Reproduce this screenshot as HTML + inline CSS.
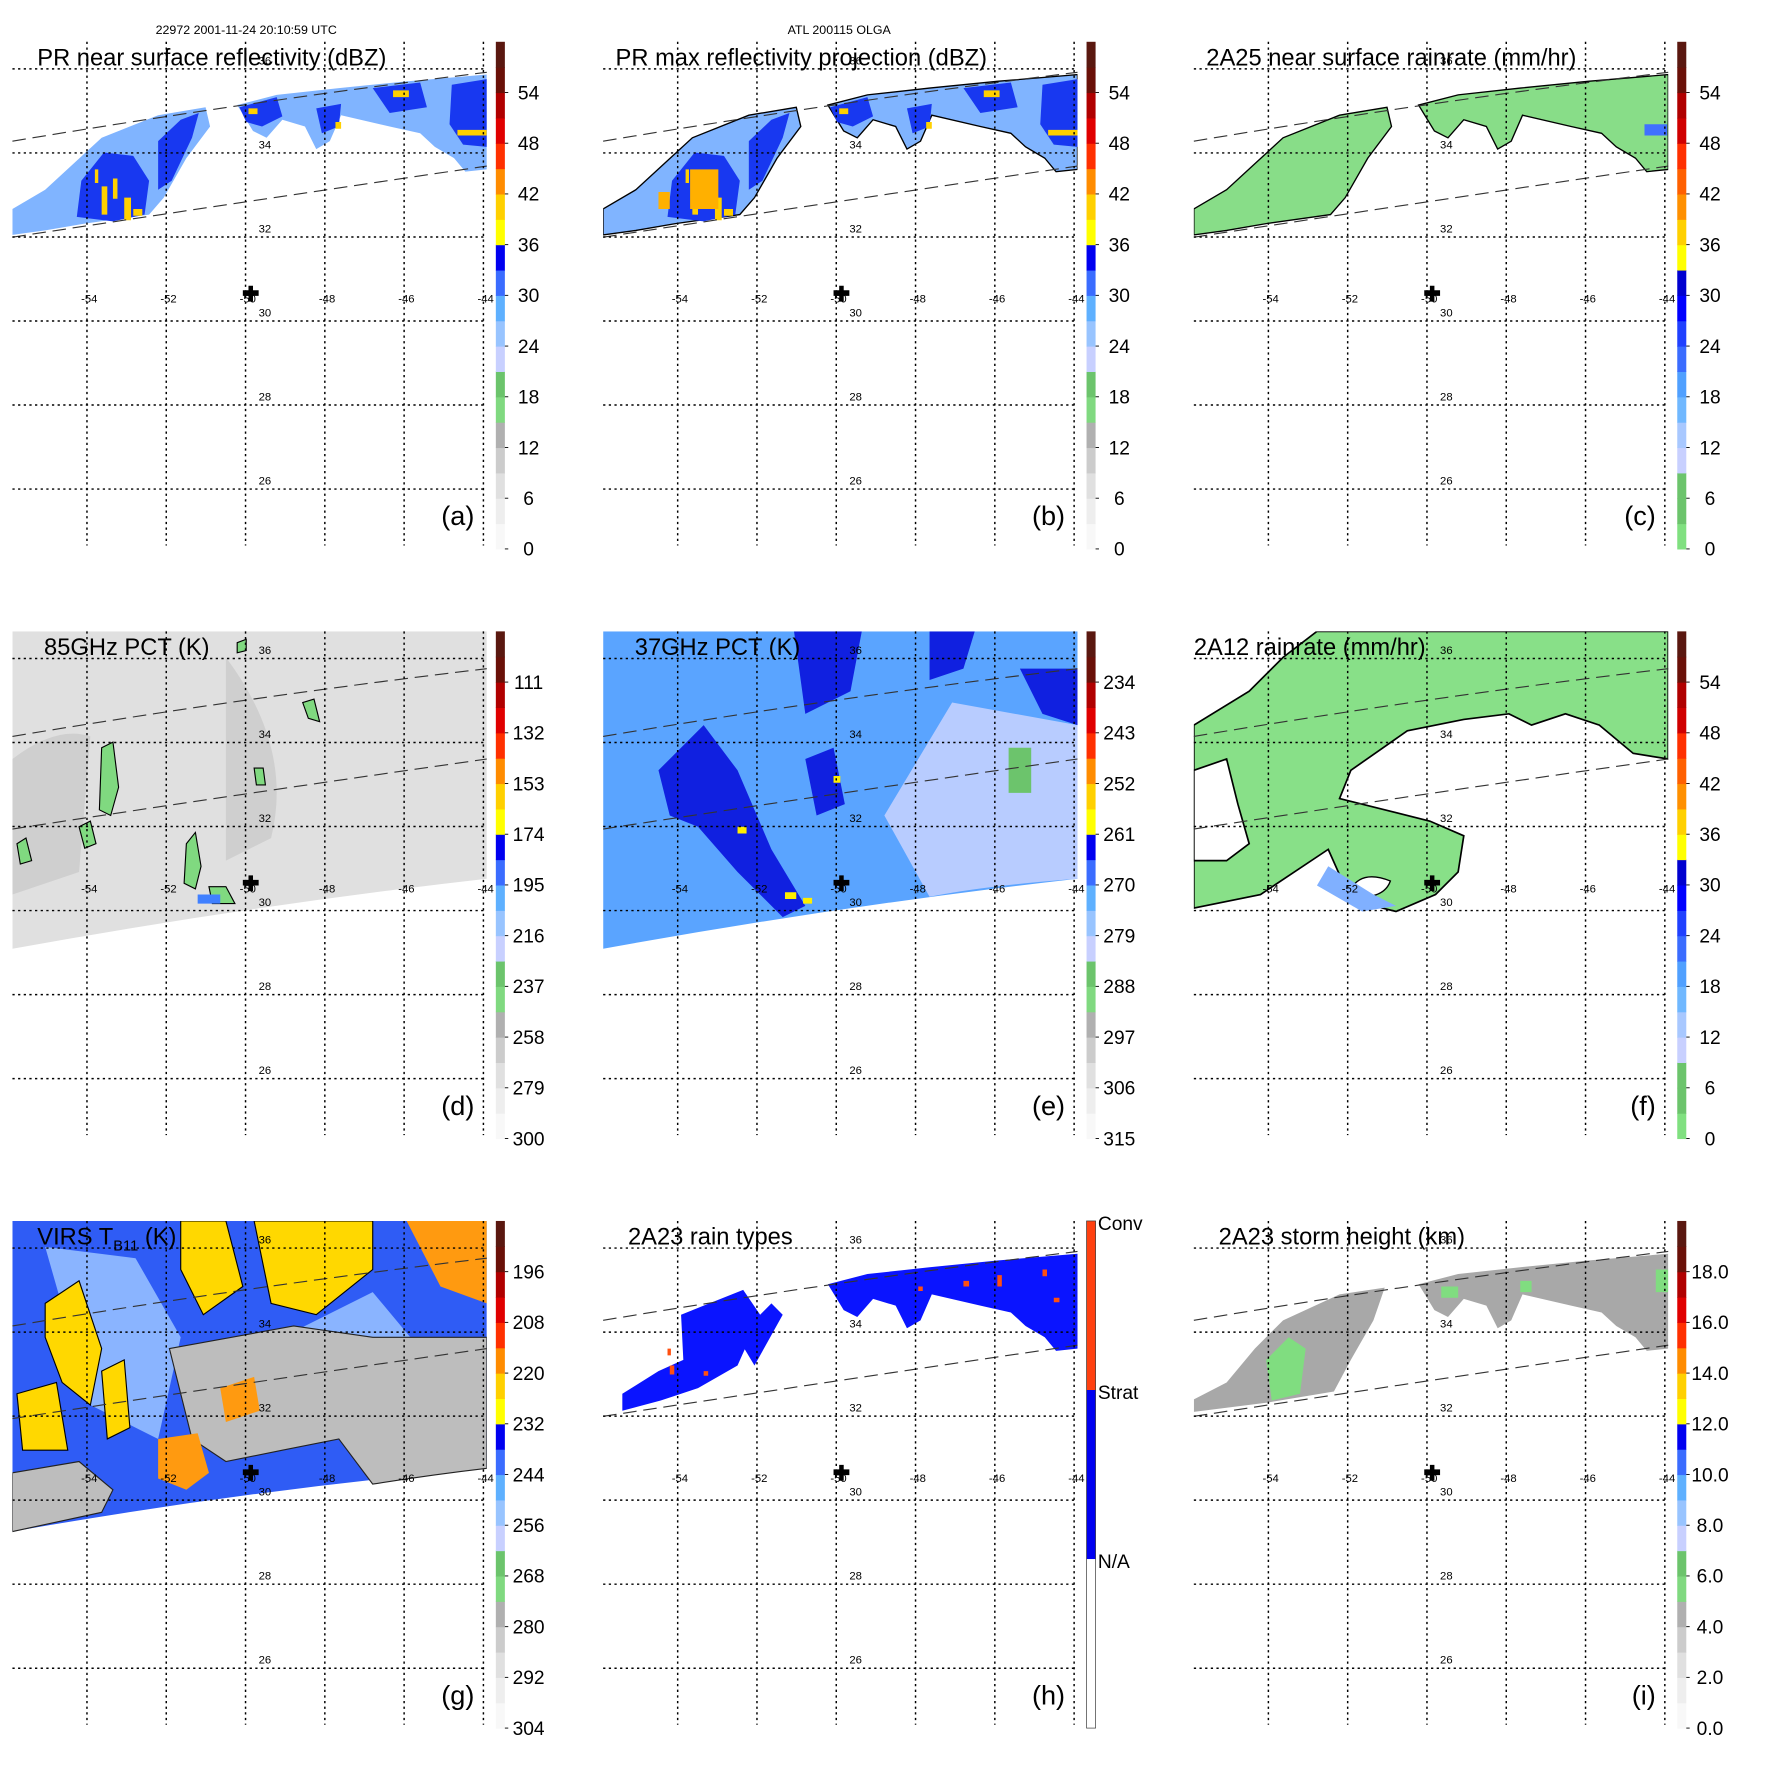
<!DOCTYPE html>
<html><head><meta charset="utf-8"><style>
html,body{margin:0;padding:0;background:#fff;}
svg{display:block;font-family:"Liberation Sans",sans-serif;}
</style></head><body>
<svg id="fig" width="1771" height="1771" viewBox="0 0 1568 1568" xmlns="http://www.w3.org/2000/svg">
<defs>
<clipPath id="mapclip"><rect x="11" y="37" width="420" height="447"/></clipPath>
</defs>
<text x="218" y="30" font-size="11" text-anchor="middle">22972 2001-11-24 20:10:59 UTC</text>
<text x="743" y="30" font-size="11" text-anchor="middle">ATL 200115 OLGA</text>
<g id="panels"></g>
</svg>
<script>
const lonTicks = [-54, -52, -50, -48, -46, -44];
const latTicks = [36, 34, 32, 30, 28, 26];
const barA = ["0","6","12","18","24","30","36","42","48","54"];
const barD = ["300","279","258","237","216","195","174","153","132","111"];
const barE = ["315","306","297","288","279","270","261","252","243","234"];
const barG = ["304","292","280","268","256","244","232","220","208","196"];
const barI = ["0.0","2.0","4.0","6.0","8.0","10.0","12.0","14.0","16.0","18.0"];
const titles = ["PR near surface reflectivity (dBZ)","PR max reflectivity projection (dBZ)","2A25 near surface rainrate (mm/hr)","85GHz PCT (K)","37GHz PCT (K)","2A12 rainrate (mm/hr)","VIRS T","2A23 rain types","2A23 storm height (km)"];
const titleX = [33,22,22,39,39,11,33,33,33];
const letters = ["(a)","(b)","(c)","(d)","(e)","(f)","(g)","(h)","(i)"];

const NS="http://www.w3.org/2000/svg";
function lonX(lon){return 77+(lon+54)*35.1;}
function latY(lat){return 61+(36-lat)*37.2;}
function barY(v){return 486-v*(449/60);}

const colsA=["#f8f8f8","#eeeeee","#e0e0e0","#cccccc","#b0b0b0","#80d980","#6cc46c","#c8d0ff","#98c4ff","#5eb0ff","#3a6cff","#0000f0","#ffff00","#ffd000","#ff8c00","#ff3000","#e00000","#b00000","#6a1008","#5a1810"];
const colsC=["#80e080","#6cc46c","#6cc46c","#c8d0ff","#a8c8ff","#70b8ff","#50a0ff","#3a6cff","#2040ff","#0000ff","#0000d0","#ffff00","#ffd000","#ff9000","#ff6000","#ff3000","#d00000","#b00000","#6a1008","#5a1810"];

function el(tag,attrs,parent){const e=document.createElementNS(NS,tag);for(const k in attrs)e.setAttribute(k,attrs[k]);parent.appendChild(e);return e;}

const root=document.getElementById('panels');

function drawPanel(i){
  const ox=(i%3)*523, oy=Math.floor(i/3)*522;
  const g=el('g',{transform:`translate(${ox},${oy})`},root);
  
  
  const data=el('g',{'clip-path':'url(#mapclip)'},g);
  
  
  drawData(i,data);
  if([0,1,2,7,8].includes(i)){
    const s1=el('path',{d:"M11,125 Q220,90 431,64",fill:"none",stroke:"#333","stroke-width":"1","stroke-dasharray":"12,6"},g);
    
    
    const s2=el('path',{d:"M11,210 Q220,178 431,147",fill:"none",stroke:"#333","stroke-width":"1","stroke-dasharray":"12,6"},g);
    
    
  } else {
    const s1=el('path',{d:"M11,130 Q220,95 431,70",fill:"none",stroke:"#333","stroke-width":"1","stroke-dasharray":"12,6"},g);
    
    
    const s2=el('path',{d:"M11,212 Q220,180 431,150",fill:"none",stroke:"#333","stroke-width":"1","stroke-dasharray":"12,6"},g);
    
    
  }
  latTicks.forEach(lat=>{
    const y=latY(lat);
    const l=el('line',{x1:11,x2:431,y1:y,y2:y,stroke:"#000","stroke-width":"1.3","stroke-dasharray":"2,3"},g);
    
    
    const t=el('text',{x:229,y:y-4,'font-size':"10"},g);t.textContent=String(lat);
    
    
  });
  lonTicks.forEach(lon=>{
    const x=lonX(lon);
    const l=el('line',{x1:x,x2:x,y1:37,y2:483,stroke:"#000","stroke-width":"1.3","stroke-dasharray":"2,3"},g);
    
    
    const t=el('text',{x:x+2,y:268,'font-size':"10",'text-anchor':"middle"},g);t.textContent=String(lon);
    
    
  });
  const c=el('path',{d:"M217,257h5v-4h4v4h5v5h-5v5h-4v-5h-5z",fill:"#000",transform:"translate(-2,0)"},g);
  
  
  const tt=el('text',{x:titleX[i],y:58,'font-size':"21"},g);
  if(i===6){tt.textContent="VIRS T";const ts=el('tspan',{'font-size':"13",dy:"5"},tt);ts.textContent="B11";const ts2=el('tspan',{dy:"-5"},tt);ts2.textContent=" (K)";}
  else tt.textContent=titles[i];
  
  
  const lt=el('text',{x:420,y:465,'font-size':"24",'text-anchor':"end"},g);lt.textContent=letters[i];
  
  
  drawBar(i,g);
}

function drawBar(i,g){
  const bg=el('g',{},g);
  
  
  if(i===7){
    const parts=[[0,20,"#ffffff"],[20,40,"#0000f0"],[40,60,"#ff4010"]];
    parts.forEach(p=>{const r=el('rect',{x:439,y:barY(p[1]),width:8,height:barY(p[0])-barY(p[1]),fill:p[2]},bg);
      
      });
    const o=el('rect',{x:439,y:barY(60),width:8,height:449,fill:"none",stroke:"#333","stroke-width":"0.6"},bg);
    
    
    [["N/A",20],["Strat",40],["Conv",60]].forEach(p=>{const t=el('text',{x:449,y:barY(p[1])+8,'font-size':"17"},bg);t.textContent=p[0];
      
      });
    return;
  }
  const cols=(i===2||i===5)?colsC:colsA;
  cols.forEach((c,k)=>{const r=el('rect',{x:439,y:barY((k+1)*3),width:8,height:barY(k*3)-barY((k+1)*3)+0.5,fill:c},bg);
    
    });
  const labels=[barA,barA,barA,barD,barE,barA,barG,null,barI][i];
  labels.forEach((lab,k)=>{
    const y=barY(k*6);
    const tk=el('line',{x1:447,x2:450,y1:y,y2:y,stroke:"#000","stroke-width":"0.8"},bg);
    
    
    const t=el('text',{x:468,y:y+6,'font-size':"17",'text-anchor':"middle"},bg);t.textContent=lab;
    
    
  });
}

function P(parent,d,fill,stroke,name,sw){
  const p=el('path',{d:d,fill:fill,stroke:stroke||"none","stroke-width":sw||"1.2"},parent);
  
  
  return p;
}

const leftLight="M11,185 L40,168 L65,145 L90,122 L140,102 L182,95 L186,112 L165,140 L145,175 L132,190 L75,198 L40,204 L11,208 Z";
const leftDark="M68,192 L72,160 L92,135 L118,138 L132,160 L128,190 L100,196 Z M140,125 L160,106 L176,100 L170,122 L152,160 L140,168 Z";
const rightLight="M210,93 L245,84 L300,78 L360,72 L431,66 L431,150 L412,152 L402,140 L385,130 L372,118 L345,112 L302,102 L292,125 L280,132 L270,112 L250,106 L236,122 L224,116 Z";
const rightDark="M212,95 L245,86 L250,103 L232,112 L218,108 Z M280,96 L302,92 L300,112 L285,118 Z M330,78 L372,73 L378,95 L345,100 Z M400,75 L431,70 L431,130 L410,128 L398,110 Z";
const yellowA="M90,165 h5 v25 h-5z M100,158 h4 v18 h-4z M110,175 h6 v20 h-6z M118,185 h8 v6 h-8z M84,150 h3 v12 h-3z M405,115 h26 v5 h-26z M348,80 h14 v6 h-14z M220,96 h8 v5 h-8z M297,108 h5 v6 h-5z";

function drawData(i,g){
  if(i===0||i===1){
    P(g,leftLight,"#80b4ff",i===1?"#000":null,'rain-area-light');
    P(g,rightLight,"#80b4ff",i===1?"#000":null,'rain-area-light');
    P(g,leftDark,"#1838f0",null,'rain-area-dark');
    P(g,rightDark,"#1838f0",null,'rain-area-dark');
    P(g,yellowA,"#ffd000",null,'rain-area-convective');
    if(i===1) P(g,"M88,150 h25 v35 h-25z M60,170 h10 v15 h-10z","#ffb000",null,'rain-area-convective');
  }
  if(i===2){
    P(g,leftLight,"#88dd88","#000",'rain-area');
    P(g,rightLight,"#88dd88","#000",'rain-area');
    P(g,"M410,110 h20 v10 h-20z","#4070ff",null,'rain-area-heavy');
  }
  if(i===7){
    P(g,"M28,190 L60,170 L82,160 L80,120 L100,112 L135,98 L150,120 L130,165 L95,185 L62,196 L28,205 Z M130,140 L160,110 L170,120 L145,165 Z",'#0a14ff',null,'stratiform-area');
    P(g,rightLight,"#0a14ff",null,'stratiform-area');
    P(g,"M70,165 h4 v8 h-4z M68,150 h3 v6 h-3z M100,170 h4 v4 h-4z M330,90 h5 v5 h-5z M360,85 h4 v10 h-4z M400,80 h4 v6 h-4z M410,105 h5 v4 h-5z M290,95 h4 v4 h-4z","#ff5010",null,'convective-area');
  }
  if(i===8){
    P(g,"M11,195 L40,180 L65,150 L90,125 L140,102 L180,96 L170,125 L150,160 L135,188 L75,198 L11,206 Z",'#a8a8a8',null,'storm-height-area');
    P(g,rightLight,"#a8a8a8",null,'storm-height-area');
    P(g,"M75,160 L95,140 L110,150 L105,190 L80,196 Z M230,95 h15 v10 h-15z M300,90 h10 v10 h-10z M420,80 h11 v20 h-11z","#80dd80",null,'storm-height-low');
  }
  if(i===3){
    P(g,"M11,37 H431 V256 Q220,280 11,318 Z","#e0e0e0",null,'pct85-field');
    P(g,"M11,150 Q50,120 80,130 L70,250 L11,270 Z M200,60 Q260,140 240,220 L200,240 Z","#cfcfcf",null,'pct85-cold');
    P(g,"M90,140 L100,135 L105,175 L98,200 L88,195 Z M70,210 l10,-5 l5,20 l-10,4z M15,225 l8,-5 l5,20 l-10,3z M165,225 l8,-10 l5,30 l-5,20 l-10,-5z M185,263 l15,0 l8,15 l-20,0z M210,47 l8,-3 l0,10 l-8,2z M225,158 l8,0 l2,15 l-8,0z M268,100 l10,-3 l5,20 l-10,-3z","#80d980","#000",'pct85-ice-scatter',"1");
    P(g,"M175,270 h20 v8 h-20z","#4080ff",null,'pct85-deep');
  }
  if(i===4){
    P(g,"M11,37 H431 V256 Q220,280 11,318 Z","#5aa4ff",null,'pct37-field');
    P(g,"M320,100 L431,120 L431,256 Q350,262 300,272 L260,200 Z","#b8ccff",null,'pct37-warm');
    P(g,"M60,160 L100,120 L130,160 L160,230 L190,280 L170,290 L130,250 L95,210 L70,200 Z M180,37 L240,37 L230,90 L190,110 Z M300,37 L340,37 L330,70 L300,80 Z M380,70 L431,70 L431,120 L400,110 Z M190,150 L215,140 L225,190 L200,200 Z","#1020e0",null,'pct37-cold');
    P(g,"M130,210 h8 v6 h-8z M172,268 h10 v6 h-10z M188,273 h8 v5 h-8z M215,165 h6 v6 h-6z","#ffee00",null,'pct37-scatter');
    P(g,"M370,140 h20 v40 h-20z","#6cc46c",null,'pct37-emission');
  }
  if(i===5){
    P(g,"M11,120 L60,90 L90,60 L120,37 L431,37 L431,150 L400,145 L370,120 L340,110 L310,120 L290,110 L250,115 L200,125 L150,160 L140,185 L180,195 L220,205 L250,218 L245,250 L225,270 L190,285 L150,275 L130,230 L100,250 L70,270 L11,282 Z","#88e088","#000",'rainrate-area',"1.5");
    P(g,"M11,160 L40,150 L50,190 L60,225 L40,240 L11,240 Z","#ffffff","#000",'no-rain-hole',"1.5");
    P(g,"M150,265 Q160,248 185,258 Q180,272 160,272 Z","#ffffff","#000",'eye-hole',"1.2");
    P(g,"M130,245 L170,270 L190,280 L160,285 L120,262 Z","#80b0ff",null,'rainrate-heavy');
  }
  if(i===6){
    P(g,"M11,37 H431 V256 Q220,275 11,312 Z","#2f5cf5",null,'virs-field');
    P(g,"M40,60 L120,70 L160,140 L140,230 L80,200 L60,130 Z M250,140 L330,100 L380,160 L300,200 Z","#8ab4ff",null,'virs-warm');
    P(g,"M150,150 L260,130 L330,140 L431,140 L431,256 Q380,262 330,270 L300,230 L250,240 L200,250 L170,230 Z","#bdbdbd","#222",'virs-clear',"1");
    P(g,"M11,260 L70,250 L100,275 L90,295 L11,312 Z","#bdbdbd","#222",'virs-clear',"1");
    P(g,"M40,110 L70,90 L90,150 L80,200 L55,180 L40,140 Z M15,190 L50,180 L60,240 L20,240 Z M160,37 L200,37 L215,95 L180,120 L160,80 Z M225,37 L330,37 L330,80 L280,120 L240,110 Z M90,170 L110,160 L115,220 L95,230 Z","#ffd800","#000",'virs-cold-cloud',"1");
    P(g,"M360,37 L431,37 L431,110 L390,95 Z M195,185 L225,175 L230,205 L200,215 Z M140,230 L175,225 L185,260 L165,275 L140,265 Z","#ff9a10",null,'virs-very-cold');
  }
}

for(let i=0;i<9;i++) drawPanel(i);
</script>
</body></html>
